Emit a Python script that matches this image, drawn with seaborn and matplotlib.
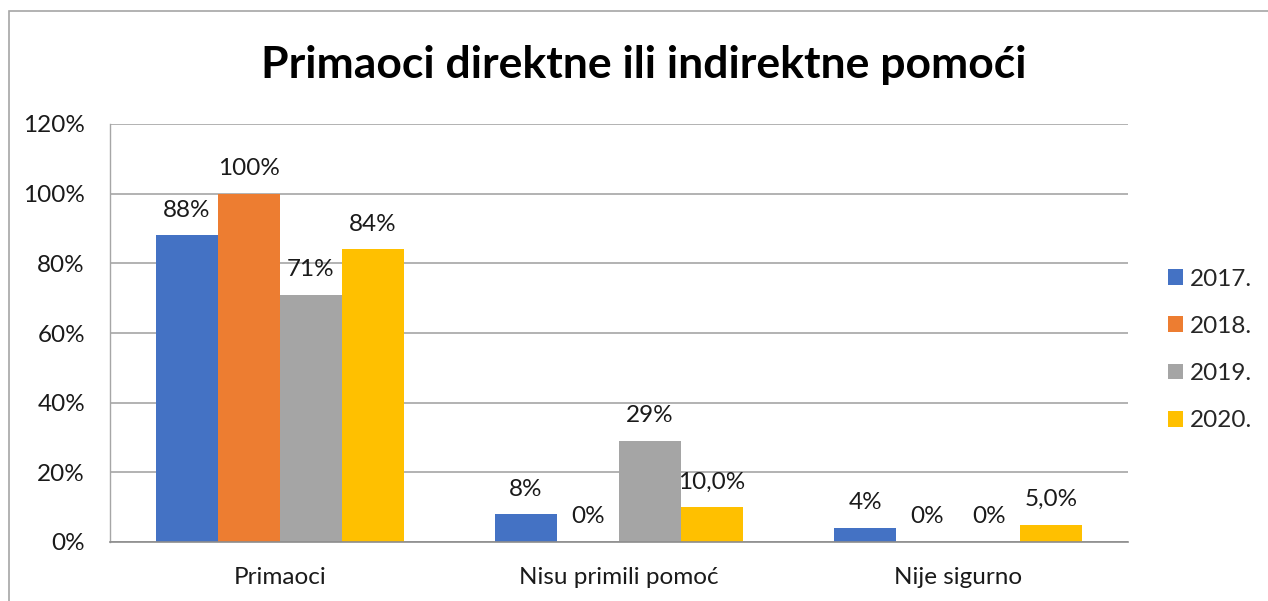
import matplotlib
matplotlib.use("Agg")
import matplotlib.pyplot as plt
import seaborn as sns
import pandas as pd
from matplotlib.patches import Rectangle, Patch

categories = ["Primaoci", "Nisu primili pomoć", "Nije sigurno"]
years = ["2017.", "2018.", "2019.", "2020."]
v2017 = [88, 8, 4]
v2018 = [100, 0, 0]
v2019 = [71, 29, 0]
v2020 = [84, 10, 5]
lab2017 = ["88%", "8%", "4%"]
lab2018 = ["100%", "0%", "0%"]
lab2019 = ["71%", "29%", "0%"]
lab2020 = ["84%", "10,0%", "5,0%"]
yticks = [0, 20, 40, 60, 80, 100, 120]
ytick_labels = ["0%", "20%", "40%", "60%", "80%", "100%", "120%"]
title = "Primaoci direktne ili indirektne pomoći"
colors = ["#4472C4", "#ED7D31", "#A5A5A5", "#FFC000"]

series = [v2017, v2018, v2019, v2020]
labels = [lab2017, lab2018, lab2019, lab2020]
rows = []
for y, vals in zip(years, series):
    for c, v in zip(categories, vals):
        rows.append({"cat": c, "year": y, "val": v})
df = pd.DataFrame(rows)

sns.set_theme(style="white")
plt.rcParams["font.family"] = ["Lato", "DejaVu Sans"]
FS = 17.5

fig = plt.figure(figsize=(12.68, 6.01), dpi=100)
ax = fig.add_axes([110/1268, 59/601, 1018/1268, 418/601])

sns.barplot(data=df, x="cat", y="val", hue="year", order=categories,
            hue_order=years, palette=colors, saturation=1, width=0.73,
            linewidth=0, ax=ax, legend=False)

for cont, labs in zip(ax.containers, labels):
    ax.bar_label(cont, labels=labs, padding=10.5, fontsize=FS, color="#1a1a1a")

ax.set_ylim(0, 120)
ax.set_yticks(yticks)
ax.set_yticklabels(ytick_labels, fontsize=FS, color="#1a1a1a")
ax.tick_params(axis="x", labelsize=FS, labelcolor="#1a1a1a", length=0, pad=18)
ax.tick_params(axis="y", length=0, pad=18)
ax.set_xlabel("")
ax.set_ylabel("")
ax.yaxis.grid(True, color="#A6A6A6", linewidth=1.2)
ax.set_axisbelow(True)
for s in ["top", "right"]:
    ax.spines[s].set_visible(False)
ax.spines["left"].set_color("#A6A6A6")
ax.spines["left"].set_linewidth(1.0)
ax.spines["bottom"].set_color("#8C8C8C")
ax.spines["bottom"].set_linewidth(1.2)

fig.text(644/1268, (601-65)/601, title, ha="center", va="center",
         fontsize=32, fontweight="bold", color="#000000")

handles = [Patch(facecolor=c, edgecolor="none") for c in colors]
fig.legend(handles, years, loc="center left",
           bbox_to_anchor=(1168/1268, (601-350)/601), frameon=False,
           fontsize=FS, handlelength=0.62, handleheight=0.62,
           handletextpad=0.3, labelspacing=1.08, borderpad=0, borderaxespad=0)

fig.patches.append(Rectangle((9/1268, -0.1), 1.2, (601-11)/601 + 0.1,
                             transform=fig.transFigure, fill=False,
                             edgecolor="#A6A6A6", linewidth=1.2))

fig.savefig("out.png", dpi=100)
